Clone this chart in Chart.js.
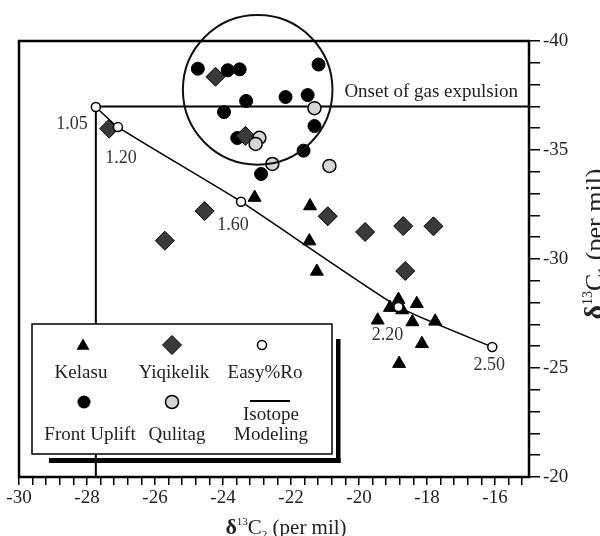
<!DOCTYPE html>
<html>
<head>
<meta charset="utf-8">
<script src="https://cdn.jsdelivr.net/npm/chart.js@4/dist/chart.umd.min.js"></script>
<style>
  html, body { margin: 0; padding: 0; background: #fff; }
  #wrap { width: 600px; height: 536px; }
</style>
</head>
<body>
<div id="wrap"><canvas id="chart"></canvas></div>
<script>
// axes (delta13C2 on x, delta13C1 on y, both per mil)
const xRange = [-30, -15];
const yRange = [-40, -20];
const xMinorStep = 0.4;
const xLabelStep = 2;
const yMinorStep = 1;
const yLabelStep = 5;

// Kelasu
const kelasuC2 = [-23.07, -21.44, -21.46, -21.24, -18.84, -19.09, -18.73, -18.30, -19.45, -18.43, -17.76, -18.15, -18.82];
const kelasuC1 = [-32.82, -32.43, -30.82, -29.43, -28.14, -27.77, -27.66, -27.95, -27.19, -27.11, -27.14, -26.11, -25.20];

// Yiqikelik
const yiqikelikC2 = [-27.35, -24.22, -23.34, -24.54, -25.71, -20.92, -19.82, -18.70, -17.81, -18.64];
const yiqikelikC1 = [-35.98, -38.36, -35.65, -32.20, -30.84, -31.96, -31.24, -31.51, -31.50, -29.45];

// Front Uplift
const frontC2 = [-24.74, -23.86, -23.51, -21.19, -23.32, -22.16, -21.51, -23.97, -21.31, -23.58, -21.63, -22.88];
const frontC1 = [-38.73, -38.66, -38.70, -38.92, -37.25, -37.43, -37.52, -36.74, -36.10, -35.55, -34.97, -33.90];

// Qulitag
const qulitagC2 = [-21.31, -22.93, -23.04, -22.55, -20.87];
const qulitagC1 = [-36.92, -35.56, -35.28, -34.36, -34.27];

// Easy%Ro modelled path
const roC2 = [-27.74, -27.09, -23.47, -18.84, -16.08];
const roC1 = [-36.97, -36.05, -32.63, -27.80, -25.96];
const roLabels = ['1.05', '1.20', '1.60', '2.20', '2.50'];

// onset of gas expulsion and the circled group
const onsetC1 = -37;
const onsetText = 'Onset of gas expulsion';
const circleCenter = [-22.98, -37.76];
const circleRadiusC2 = 2.2;

const SERIF = '"Liberation Serif", "Times New Roman", serif';

function toPoints(xs, ys) {
    return xs.map((x, i) => ({ x: x, y: ys[i] }));
}

// draw a marker by hand for the legend box
function drawMarker(ctx, shape, x, y) {
    ctx.save();
    ctx.strokeStyle = '#000';
    ctx.beginPath();
    if (shape === 'triangle') {
        ctx.moveTo(x, y - 7.5);
        ctx.lineTo(x + 6.5, y + 3.75);
        ctx.lineTo(x - 6.5, y + 3.75);
        ctx.closePath();
        ctx.fillStyle = '#000';
        ctx.fill();
    } else if (shape === 'diamond') {
        ctx.moveTo(x, y - 9.5);
        ctx.lineTo(x + 9.5, y);
        ctx.lineTo(x, y + 9.5);
        ctx.lineTo(x - 9.5, y);
        ctx.closePath();
        ctx.fillStyle = '#3a3a3a';
        ctx.fill();
        ctx.lineWidth = 1;
        ctx.stroke();
    } else if (shape === 'ro') {
        ctx.arc(x, y, 4.5, 0, Math.PI * 2);
        ctx.fillStyle = '#fff';
        ctx.fill();
        ctx.lineWidth = 1.5;
        ctx.stroke();
    } else if (shape === 'black') {
        ctx.arc(x, y, 6.5, 0, Math.PI * 2);
        ctx.fillStyle = '#000';
        ctx.fill();
    } else if (shape === 'gray') {
        ctx.arc(x, y, 6.5, 0, Math.PI * 2);
        ctx.fillStyle = '#d6d6d6';
        ctx.fill();
        ctx.lineWidth = 1.5;
        ctx.stroke();
    } else if (shape === 'line') {
        ctx.moveTo(x - 20, y);
        ctx.lineTo(x + 20, y);
        ctx.lineWidth = 2;
        ctx.stroke();
    }
    ctx.restore();
}

// text with super/subscripts: parts = [text, size, weight, dy]
function richText(ctx, parts, x, y) {
    let total = 0;
    const widths = parts.map(p => {
        ctx.font = p[2] + ' ' + p[1] + 'px ' + SERIF;
        const w = ctx.measureText(p[0]).width;
        total += w;
        return w;
    });
    let cx = x - total / 2;
    parts.forEach((p, i) => {
        ctx.font = p[2] + ' ' + p[1] + 'px ' + SERIF;
        ctx.fillText(p[0], cx, y + p[3]);
        cx += widths[i];
    });
}

const extras = {
    id: 'extras',
    afterDatasetsDraw(chart) {
        const ctx = chart.ctx;
        const xs = chart.scales.x;
        const ys = chart.scales.y;
        const area = chart.chartArea;

        // circle round the Front Uplift group
        const cx = xs.getPixelForValue(circleCenter[0]);
        const cy = ys.getPixelForValue(circleCenter[1]);
        const r = Math.abs(xs.getPixelForValue(circleCenter[0] + circleRadiusC2) - cx);
        ctx.save();
        ctx.beginPath();
        ctx.arc(cx, cy, r, 0, Math.PI * 2);
        ctx.lineWidth = 2;
        ctx.strokeStyle = '#111';
        ctx.stroke();

        // onset label
        ctx.fillStyle = '#222';
        ctx.font = '19px ' + SERIF;
        ctx.textAlign = 'right';
        ctx.textBaseline = 'middle';
        ctx.fillText(onsetText, area.right - 11, ys.getPixelForValue(onsetC1) - 14);

        // Easy%Ro labels
        const offsets = [[-8, 17, 'right'], [3, 31, 'center'], [-8, 24, 'center'], [-11, 28, 'center'], [-3, 18, 'center']];
        const meta = chart.getDatasetMeta(chart.data.datasets.length - 1);
        ctx.fillStyle = '#333';
        ctx.font = '18px ' + SERIF;
        meta.data.forEach((pt, i) => {
            ctx.textAlign = offsets[i][2];
            ctx.fillText(roLabels[i], pt.x + offsets[i][0], pt.y + offsets[i][1]);
        });
        ctx.restore();
    },
    afterDraw(chart) {
        const ctx = chart.ctx;
        const area = chart.chartArea;
        ctx.save();

        // frame
        ctx.lineWidth = 2.5;
        ctx.strokeStyle = '#000';
        ctx.strokeRect(area.left, area.top, area.right - area.left, area.bottom - area.top);

        // legend box with shadow
        ctx.fillStyle = '#000';
        ctx.fillRect(336, 339, 4.5, 124);
        ctx.fillRect(49, 458, 291.5, 5);
        ctx.fillStyle = '#fff';
        ctx.fillRect(32, 324, 300, 130);
        ctx.lineWidth = 1.5;
        ctx.strokeRect(32, 324, 300, 130);

        drawMarker(ctx, 'triangle', 83, 346);
        drawMarker(ctx, 'diamond', 172, 345);
        drawMarker(ctx, 'ro', 262, 345);
        drawMarker(ctx, 'black', 84, 402);
        drawMarker(ctx, 'gray', 172, 402);
        drawMarker(ctx, 'line', 270, 401);

        ctx.fillStyle = '#222';
        ctx.font = '19px ' + SERIF;
        ctx.textAlign = 'center';
        ctx.textBaseline = 'middle';
        ctx.fillText('Kelasu', 81, 373);
        ctx.fillText('Yiqikelik', 174, 373);
        ctx.fillText('Easy%Ro', 265, 373);
        ctx.fillText('Front Uplift', 90, 435);
        ctx.fillText('Qulitag', 177, 435);
        ctx.fillText('Isotope', 271, 415);
        ctx.fillText('Modeling', 271, 435);

        // axis titles
        ctx.textAlign = 'left';
        ctx.textBaseline = 'alphabetic';
        richText(ctx, [['δ', 22, 'bold', 0], ['13', 11, '', -9], ['C', 21, '', 0], ['2', 11, '', 4], [' (per mil)', 21, '', 0]], 286, 534);

        ctx.translate(603, 244);
        ctx.rotate(-Math.PI / 2);
        richText(ctx, [['δ', 28, 'bold', 0], ['13', 14, '', -11], ['C', 26, '', 0], ['1', 14, '', 5], [' (per mil)', 26, '', 0]], 0, 0);
        ctx.restore();
    }
};

new Chart(document.getElementById('chart'), {
    type: 'scatter',
    data: {
        datasets: [
            {
                label: 'Onset of gas expulsion',
                type: 'line',
                data: [{ x: roC2[0], y: onsetC1 }, { x: xRange[1], y: onsetC1 }],
                borderColor: '#000',
                borderWidth: 2,
                pointRadius: 0,
                fill: false,
                order: 6
            },
            {
                label: 'Ro 1.05',
                type: 'line',
                data: [{ x: roC2[0], y: onsetC1 }, { x: roC2[0], y: yRange[1] }],
                borderColor: '#000',
                borderWidth: 2,
                pointRadius: 0,
                fill: false,
                order: 6
            },
            {
                label: 'Front Uplift',
                data: toPoints(frontC2, frontC1),
                pointStyle: 'circle',
                pointRadius: 6.5,
                backgroundColor: '#000',
                borderColor: '#000',
                borderWidth: 1,
                order: 4
            },
            {
                label: 'Yiqikelik',
                data: toPoints(yiqikelikC2, yiqikelikC1),
                pointStyle: 'rectRot',
                pointRadius: 9.5,
                backgroundColor: '#3a3a3a',
                borderColor: '#000',
                borderWidth: 1,
                order: 3
            },
            {
                label: 'Qulitag',
                data: toPoints(qulitagC2, qulitagC1),
                pointStyle: 'circle',
                pointRadius: 6.5,
                backgroundColor: '#d6d6d6',
                borderColor: '#000',
                borderWidth: 1.5,
                order: 2
            },
            {
                label: 'Kelasu',
                data: toPoints(kelasuC2, kelasuC1),
                pointStyle: 'triangle',
                pointRadius: 7.5,
                backgroundColor: '#000',
                borderColor: '#000',
                borderWidth: 1,
                order: 1
            },
            {
                label: 'Easy%Ro',
                type: 'line',
                data: toPoints(roC2, roC1),
                showLine: true,
                borderColor: '#000',
                borderWidth: 1.5,
                tension: 0.15,
                fill: false,
                pointStyle: 'circle',
                pointRadius: 4.5,
                pointBackgroundColor: '#fff',
                pointBorderColor: '#000',
                pointBorderWidth: 1.5,
                order: 0
            }
        ]
    },
    options: {
        responsive: true,
        maintainAspectRatio: false,
        animation: false,
        events: [],
        layout: { padding: { left: 19, top: 41, right: 0, bottom: 0 } },
        plugins: {
            legend: { display: false },
            tooltip: { enabled: false }
        },
        scales: {
            x: {
                type: 'linear',
                position: 'bottom',
                min: xRange[0],
                max: xRange[1],
                border: { display: false },
                grid: { drawOnChartArea: false, drawTicks: true, tickLength: 8, color: '#000', lineWidth: 1.5 },
                ticks: {
                    stepSize: xMinorStep,
                    includeBounds: false,
                    autoSkip: false,
                    maxRotation: 0,
                    padding: 2,
                    color: '#222',
                    font: { family: SERIF, size: 19 },
                    callback: function (value) {
                        const k = value / xLabelStep;
                        return Math.abs(k - Math.round(k)) < 1e-6 ? String(Math.round(value)) : '';
                    }
                },
                afterFit: function (scale) { scale.height = 59; }
            },
            y: {
                type: 'linear',
                position: 'right',
                reverse: true,
                min: yRange[0],
                max: yRange[1],
                border: { display: false },
                grid: { drawOnChartArea: false, drawTicks: true, tickLength: 11, color: '#000', lineWidth: 1.5 },
                ticks: {
                    stepSize: yMinorStep,
                    autoSkip: false,
                    padding: 3,
                    color: '#222',
                    font: { family: SERIF, size: 19 },
                    callback: function (value) {
                        return value % yLabelStep === 0 ? String(value) : '';
                    }
                },
                afterFit: function (scale) { scale.width = 71; }
            }
        }
    },
    plugins: [extras]
});
</script>
</body>
</html>
